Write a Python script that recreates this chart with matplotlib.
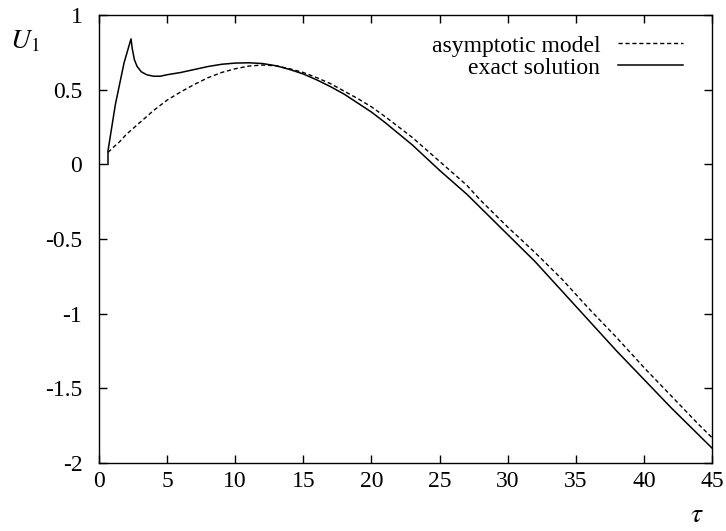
import matplotlib
matplotlib.use("Agg")
import matplotlib.pyplot as plt

plt.rcParams["font.family"] = ["Liberation Serif", "DejaVu Serif"]
plt.rcParams["mathtext.fontset"] = "stix"
plt.rcParams["axes.unicode_minus"] = False

# exact solution
tau_exact = [0.66, 0.66, 1.2, 1.84, 2.35, 2.45, 2.6, 2.8, 3.1, 3.5, 4.0, 4.5,
             5, 6, 7, 8, 9, 10, 11, 12, 13, 14, 15, 16, 17, 18, 19, 20, 21,
             22, 23, 24, 25, 26, 27, 28, 29, 30, 32, 34, 36, 38, 40, 42, 44,
             45]
u_exact = [0.0, 0.09, 0.40, 0.68, 0.84, 0.77, 0.70, 0.655, 0.62, 0.60, 0.59,
           0.59, 0.60, 0.615, 0.635, 0.655, 0.67, 0.678, 0.68, 0.675, 0.66,
           0.635, 0.605, 0.565, 0.52, 0.47, 0.41, 0.35, 0.28, 0.205, 0.13,
           0.045, -0.04, -0.12, -0.20, -0.29, -0.38, -0.47, -0.65, -0.85,
           -1.05, -1.25, -1.44, -1.63, -1.81, -1.90]

# asymptotic model
tau_asym = [0.66, 1, 1.5, 2, 2.5, 3, 4, 5, 6, 7, 8, 9, 10, 11, 12, 13, 14, 15,
            16, 17, 18, 19, 20, 21, 22, 23, 24, 25, 26, 27, 28, 29, 30, 32,
            34, 36, 38, 40, 42, 44, 45]
u_asym = [0.08, 0.11, 0.15, 0.20, 0.24, 0.28, 0.36, 0.43, 0.485, 0.535, 0.58,
          0.615, 0.64, 0.658, 0.665, 0.66, 0.64, 0.615, 0.58, 0.54, 0.49,
          0.44, 0.385, 0.32, 0.25, 0.18, 0.10, 0.02, -0.06, -0.14, -0.24,
          -0.33, -0.42, -0.59, -0.77, -0.97, -1.16, -1.36, -1.55, -1.74,
          -1.83]

xticks = [0, 5, 10, 15, 20, 25, 30, 35, 40, 45]
yticks = [-2, -1.5, -1, -0.5, 0, 0.5, 1]
ytick_labels = ["-2", "-1.5", "-1", "-0.5", "0", "0.5", "1"]

fig = plt.figure(figsize=(7.26, 5.31), dpi=100)
ax = fig.add_axes([99 / 726, 68 / 531, 613 / 726, 448 / 531])

ax.plot(tau_asym, u_asym, color="black", lw=1.0, linestyle=(0, (3, 2)),
        label="asymptotic model")
ax.plot(tau_exact, u_exact, color="black", lw=1.1, label="exact solution")

ax.set_xlim(0, 45)
ax.set_ylim(-2, 1)
ax.set_xticks(xticks)
ax.set_xticklabels([str(t) for t in xticks])
ax.set_yticks(yticks)
ax.set_yticklabels(ytick_labels)
ax.tick_params(direction="in", length=6, width=1, top=True, right=True,
               labelsize=17)
ax.tick_params(axis="x", pad=6)
ax.tick_params(axis="y", pad=12)
for sp in ax.spines.values():
    sp.set_linewidth(1)

ax.legend(loc="upper right", bbox_to_anchor=(0.9527, 0.955), frameon=False,
          markerfirst=False, fontsize=17, handlelength=2.75,
          handletextpad=0.75, labelspacing=0.02, borderpad=0, borderaxespad=0)

fig.text(25 / 726, 1 - 42 / 531, r"$U_1$", fontsize=20, ha="center",
         va="center")
fig.text(697 / 726, 1 - 515 / 531, r"$\tau$", fontsize=20, ha="center",
         va="center")

fig.savefig("out.png", dpi=100)
